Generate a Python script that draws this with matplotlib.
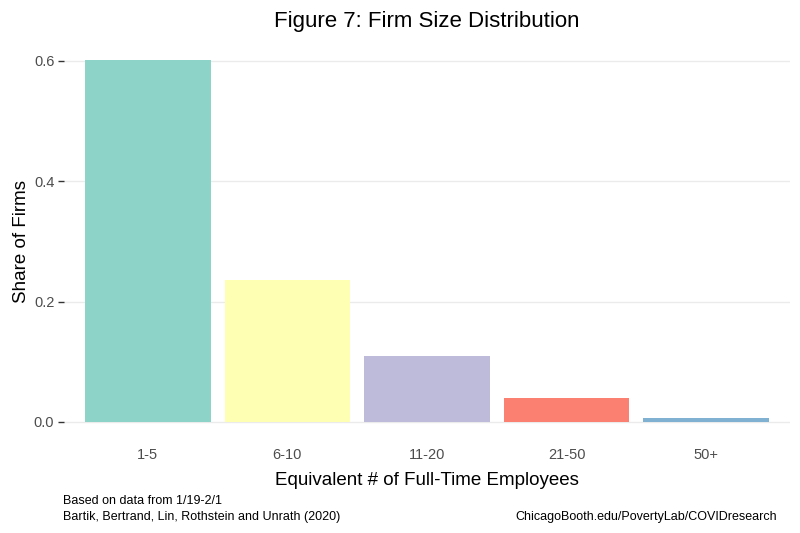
import matplotlib
matplotlib.use("Agg")
import matplotlib.pyplot as plt

categories = ["1-5", "6-10", "11-20", "21-50", "50+"]
shares = [0.601, 0.236, 0.110, 0.040, 0.006]
colors = ["#8DD3C7", "#FFFFB3", "#BEBADA", "#FB8072", "#80B1D3"]
yticks = [0.0, 0.2, 0.4, 0.6]
ytick_labels = ["0.0", "0.2", "0.4", "0.6"]

plt.rcParams['font.family'] = ['Liberation Sans', 'DejaVu Sans']

fig = plt.figure(figsize=(8, 5.33), dpi=100)
ax = fig.add_axes([0.08, 0.1745, 0.9075, 0.7465])

x = list(range(len(categories)))
ax.bar(x, shares, width=0.9, color=colors, zorder=2)

ax.set_xlim(-0.6, len(categories) - 0.4)
ymax = max(shares)
ax.set_ylim(-0.05 * ymax, ymax * 1.05)
ax.set_yticks(yticks)
ax.set_yticklabels(ytick_labels)
ax.set_xticks(x)
ax.set_xticklabels(categories)

for s in ax.spines.values():
    s.set_visible(False)
ax.grid(axis='y', color='#EBEBEB', linewidth=1.0, zorder=0)
ax.tick_params(axis='y', length=4, width=1, color='#333333', labelcolor='#4D4D4D', labelsize=10.5, pad=3)
ax.tick_params(axis='x', length=0, labelcolor='#4D4D4D', labelsize=10.5, pad=6)

ax.set_ylabel("Share of Firms", fontsize=13.5, color='black', labelpad=3)
ax.set_xlabel("Equivalent # of Full-Time Employees", fontsize=13.5, color='black', labelpad=7)
ax.set_title("Figure 7: Firm Size Distribution", fontsize=16, color='black', pad=11)

fig.text(0.079, 0.06, "Based on data from 1/19-2/1",
         fontsize=9, ha='left', va='center')
fig.text(0.079, 0.03, "Bartik, Bertrand, Lin, Rothstein and Unrath (2020)",
         fontsize=9, ha='left', va='center')
fig.text(0.971, 0.03, "ChicagoBooth.edu/PovertyLab/COVIDresearch",
         fontsize=9, ha='right', va='center')

fig.savefig("out.png", dpi=100)
